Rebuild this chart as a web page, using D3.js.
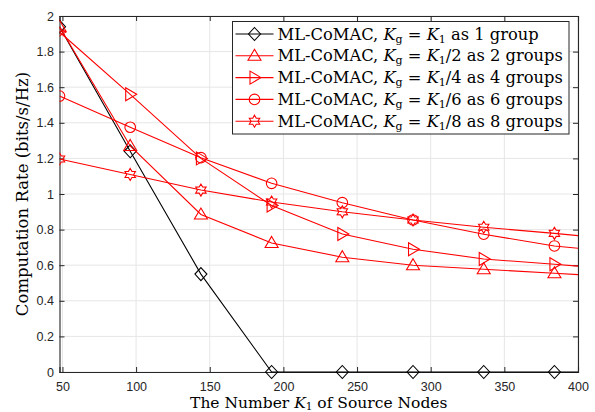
<!DOCTYPE html>
<html>
<head>
<meta charset="utf-8">
<script src="https://cdn.jsdelivr.net/npm/d3@7"></script>
<style>
  html, body { margin: 0; padding: 0; background: #fff; }
  svg { display: block; }
  .tick text { font-family: "Liberation Sans", Arial, sans-serif; font-size: 12.5px; fill: #262626; }
  .lab { font-family: "DejaVu Serif", "Liberation Serif", serif; fill: #000; }
</style>
</head>
<body>
<svg id="chart" width="595" height="412"></svg>
<script>
// K1 values (last point lies beyond the axis and is clipped, as in the original)
const nodes = [48, 96, 144, 192, 240, 288, 336, 384, 432];

const rate1 = [1.94, 1.24, 0.55, 0, 0, 0, 0, 0, 0];
const rate2 = [1.94, 1.27, 0.885, 0.725, 0.645, 0.60, 0.577, 0.555, 0.531];
const rate4 = [1.91, 1.56, 1.20, 0.935, 0.775, 0.69, 0.635, 0.605, 0.575];
const rate6 = [1.55, 1.375, 1.204, 1.06, 0.951, 0.854, 0.774, 0.708, 0.669];
const rate8 = [1.197, 1.11, 1.022, 0.955, 0.90, 0.854, 0.813, 0.779, 0.74];

const xTicks = [50, 100, 150, 200, 250, 300, 350, 400];
const yTicks = [0, 0.2, 0.4, 0.6, 0.8, 1, 1.2, 1.4, 1.6, 1.8, 2];

const seriesList = [
  { values: rate1, color: "#000000", marker: "diamond",  div: "",   groups: "1 group" },
  { values: rate2, color: "#ff0000", marker: "triangle", div: "/2", groups: "2 groups" },
  { values: rate4, color: "#ff0000", marker: "right",    div: "/4", groups: "4 groups" },
  { values: rate6, color: "#ff0000", marker: "circle",   div: "/6", groups: "6 groups" },
  { values: rate8, color: "#ff0000", marker: "hexagram", div: "/8", groups: "8 groups" }
];

const W = 595, H = 412;
const m = { left: 59.5, right: 17, top: 16, bottom: 40 };
const iw = W - m.left - m.right, ih = H - m.top - m.bottom;

const x = d3.scaleLinear().domain([48, 400]).range([0, iw]);
const y = d3.scaleLinear().domain([0, 2]).range([ih, 0]);

const svg = d3.select("#chart");
const g = svg.append("g").attr("transform", `translate(${m.left},${m.top})`);

svg.append("defs").append("clipPath").attr("id", "plotclip")
  .append("rect").attr("x", 0).attr("y", -8).attr("width", iw).attr("height", ih + 16);

// grid
g.append("g").selectAll("line").data(xTicks).join("line")
  .attr("x1", d => x(d)).attr("x2", d => x(d)).attr("y1", 0).attr("y2", ih)
  .attr("stroke", "#e6e6e6").attr("stroke-width", 1);
g.append("g").selectAll("line").data(yTicks).join("line")
  .attr("x1", 0).attr("x2", iw).attr("y1", d => y(d)).attr("y2", d => y(d))
  .attr("stroke", "#e6e6e6").attr("stroke-width", 1);

// marker shapes
function markerPath(type) {
  switch (type) {
    case "diamond": return "M0,-6.5L6,0L0,6.5L-6,0Z";
    case "triangle": return "M0,-6.5L6.5,4.5L-6.5,4.5Z";
    case "right": return "M6.5,0L-4.5,-6.5L-4.5,6.5Z";
    case "circle": return d3.symbol(d3.symbolCircle, Math.PI * 5.3 * 5.3)();
    case "hexagram": {
      const pts = d3.range(12).map(i => {
        const r = i % 2 === 0 ? 6 : 3.5;
        const a = -Math.PI / 2 + i * Math.PI / 6;
        return [r * Math.cos(a), r * Math.sin(a)];
      });
      return "M" + pts.map(p => p.join(",")).join("L") + "Z";
    }
  }
}

const line = d3.line().x((d, i) => x(nodes[i])).y(d => y(d));
const plot = g.append("g").attr("clip-path", "url(#plotclip)");

seriesList.forEach(s => {
  plot.append("path").datum(s.values)
    .attr("fill", "none").attr("stroke", s.color).attr("stroke-width", 1.1)
    .attr("d", line);
  plot.append("g").selectAll("path").data(s.values).join("path")
    .attr("transform", (d, i) => `translate(${x(nodes[i])},${y(d)})`)
    .attr("d", markerPath(s.marker))
    .attr("fill", "none").attr("stroke", s.color).attr("stroke-width", 1.1);
});

// axes (box with inward ticks)
const axisColor = "#262626";
const xa = g.append("g").attr("transform", `translate(0,${ih})`)
  .call(d3.axisBottom(x).tickValues(xTicks).tickSize(-5).tickPadding(10.5).tickFormat(d3.format("d")));
const xt = g.append("g")
  .call(d3.axisTop(x).tickValues(xTicks).tickSize(-5).tickFormat(""));
const yl = g.append("g")
  .call(d3.axisLeft(y).tickValues(yTicks).tickSize(-5).tickPadding(5.5).tickFormat(d3.format("~g")));
const yr = g.append("g").attr("transform", `translate(${iw},0)`)
  .call(d3.axisRight(y).tickValues(yTicks).tickSize(-5).tickFormat(""));
[xa, xt, yl, yr].forEach(a => {
  a.select(".domain").attr("stroke", axisColor).attr("stroke-width", 1.1);
  a.selectAll(".tick line").attr("stroke", axisColor).attr("stroke-width", 1);
});
// black series drawn along bottom axis on top
plot.raise();

// axis labels
const xl = svg.append("text").attr("class", "lab")
  .attr("x", m.left + iw / 2).attr("y", 407.5).attr("text-anchor", "middle")
  .style("font-size", "15.5px");
xl.append("tspan").text("The Number ");
xl.append("tspan").attr("font-style", "italic").text("K");
xl.append("tspan").attr("dy", 2.5).style("font-size", "10.5px").text("1");
xl.append("tspan").attr("dy", -2.5).text(" of Source Nodes");

svg.append("text").attr("class", "lab")
  .attr("transform", `translate(27.5,${m.top + ih / 2}) rotate(-90)`)
  .attr("text-anchor", "middle").style("font-size", "16.5px")
  .text("Computation Rate (bits/s/Hz)");

// legend
const lg = svg.append("g").attr("transform", "translate(232.5,21.5)");
lg.append("rect").attr("width", 336.5).attr("height", 112.5)
  .attr("fill", "#fff").attr("stroke", axisColor).attr("stroke-width", 1);
seriesList.forEach((s, i) => {
  const ry = 12.5 + i * 21.8;
  lg.append("line").attr("x1", 3).attr("x2", 41).attr("y1", ry).attr("y2", ry)
    .attr("stroke", s.color).attr("stroke-width", 1.1);
  lg.append("path").attr("transform", `translate(22,${ry})`).attr("d", markerPath(s.marker))
    .attr("fill", "none").attr("stroke", s.color).attr("stroke-width", 1.1);
  const t = lg.append("text").attr("class", "lab").attr("x", 45).attr("y", ry + 5.5)
    .style("font-size", "16.3px");
  t.append("tspan").text("ML-CoMAC, ");
  t.append("tspan").attr("font-style", "italic").text("K");
  t.append("tspan").attr("dy", 3).style("font-size", "11px").text("g");
  t.append("tspan").attr("dy", -3).text(" = ");
  t.append("tspan").attr("font-style", "italic").text("K");
  t.append("tspan").attr("dy", 3).style("font-size", "11px").text("1");
  t.append("tspan").attr("dy", -3).text(`${s.div} as ${s.groups}`);
});
</script>
</body>
</html>
